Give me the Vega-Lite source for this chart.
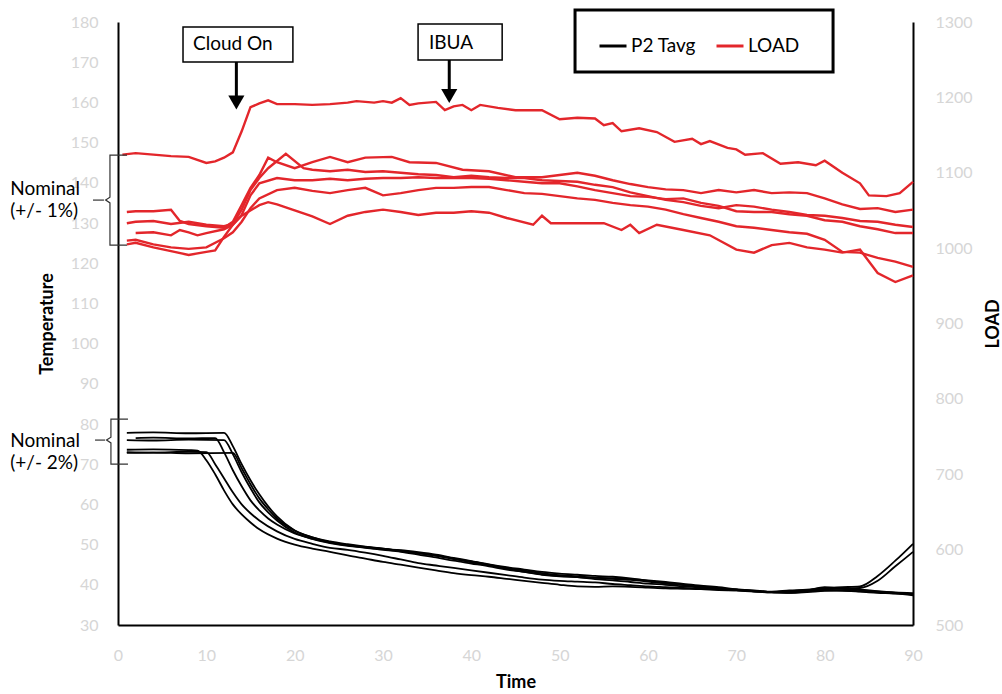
{
"$schema": "https://vega.github.io/schema/vega-lite/v6.json",
"width": 795, "height": 603,
"autosize": {"type": "none"},
"padding": {"left": 118, "top": 22, "right": 89, "bottom": 69},
"background": "white",
"config": {
  "view": {"stroke": null},
  "font": "Lato",
  "axis": {"labelFont": "Lato", "labelFontSize": 16, "labelColor": "#d6d6d6", "labelFlush": false, "titleFont": "Lato", "titleFontSize": 18, "titleFontWeight": "bold", "titleColor": "#000000", "domainColor": "#000000", "domainWidth": 2, "ticks": false, "grid": false}
},
"datasets": {
  "temp": [
    {"run":"T1","t":1,"v":77.8},{"run":"T1","t":4,"v":77.9},{"run":"T1","t":8,"v":77.7},{"run":"T1","t":12,"v":77.8},{"run":"T1","t":13,"v":74.5},{"run":"T1","t":14,"v":70},{"run":"T1","t":15,"v":66},{"run":"T1","t":16,"v":62.5},{"run":"T1","t":17,"v":59.5},{"run":"T1","t":18,"v":57},{"run":"T1","t":20,"v":53.5},{"run":"T1","t":22,"v":51.8},{"run":"T1","t":24,"v":50.6},{"run":"T1","t":26,"v":49.9},{"run":"T1","t":28,"v":49.4},{"run":"T1","t":30,"v":49},{"run":"T1","t":32,"v":48.4},{"run":"T1","t":34,"v":47.8},{"run":"T1","t":36,"v":47.2},{"run":"T1","t":38,"v":46.4},{"run":"T1","t":40,"v":45.6},{"run":"T1","t":42,"v":44.8},{"run":"T1","t":44,"v":44},{"run":"T1","t":46,"v":43.2},{"run":"T1","t":48,"v":42.6},{"run":"T1","t":50,"v":42.2},{"run":"T1","t":52,"v":41.9},{"run":"T1","t":54,"v":41.7},{"run":"T1","t":56,"v":41.6},{"run":"T1","t":58,"v":41.4},{"run":"T1","t":60,"v":41.1},{"run":"T1","t":62,"v":40.7},{"run":"T1","t":64,"v":40.2},{"run":"T1","t":66,"v":39.8},{"run":"T1","t":68,"v":39.4},{"run":"T1","t":70,"v":38.9},{"run":"T1","t":72,"v":38.6},{"run":"T1","t":74,"v":38.3},{"run":"T1","t":76,"v":38.6},{"run":"T1","t":78,"v":38.8},{"run":"T1","t":80,"v":39.2},{"run":"T1","t":82,"v":39.4},{"run":"T1","t":84,"v":39.6},{"run":"T1","t":86,"v":42.2},{"run":"T1","t":88,"v":46},{"run":"T1","t":90,"v":50.2},
    {"run":"T2","t":2,"v":76.5},{"run":"T2","t":4,"v":76.6},{"run":"T2","t":8,"v":76.4},{"run":"T2","t":11,"v":76.5},{"run":"T2","t":12,"v":73},{"run":"T2","t":13,"v":68.5},{"run":"T2","t":14,"v":64.5},{"run":"T2","t":15,"v":61},{"run":"T2","t":16,"v":58.5},{"run":"T2","t":17,"v":56.5},{"run":"T2","t":18,"v":55},{"run":"T2","t":20,"v":52.8},{"run":"T2","t":22,"v":51.5},{"run":"T2","t":24,"v":50.5},{"run":"T2","t":26,"v":49.8},{"run":"T2","t":28,"v":49.2},{"run":"T2","t":30,"v":48.7},{"run":"T2","t":32,"v":48.2},{"run":"T2","t":34,"v":47.5},{"run":"T2","t":36,"v":46.8},{"run":"T2","t":38,"v":46},{"run":"T2","t":40,"v":45.3},{"run":"T2","t":42,"v":44.6},{"run":"T2","t":44,"v":43.8},{"run":"T2","t":46,"v":43.2},{"run":"T2","t":48,"v":42.5},{"run":"T2","t":50,"v":42.1},{"run":"T2","t":52,"v":41.9},{"run":"T2","t":54,"v":41.4},{"run":"T2","t":56,"v":41.1},{"run":"T2","t":58,"v":40.7},{"run":"T2","t":60,"v":40.3},{"run":"T2","t":62,"v":40},{"run":"T2","t":64,"v":39.6},{"run":"T2","t":66,"v":39.3},{"run":"T2","t":68,"v":39},{"run":"T2","t":70,"v":38.8},{"run":"T2","t":72,"v":38.5},{"run":"T2","t":74,"v":38.2},{"run":"T2","t":76,"v":38.4},{"run":"T2","t":78,"v":38.7},{"run":"T2","t":80,"v":39},{"run":"T2","t":82,"v":39.1},{"run":"T2","t":84,"v":39.2},{"run":"T2","t":86,"v":41},{"run":"T2","t":88,"v":44.6},{"run":"T2","t":90,"v":48.2},
    {"run":"T3","t":1,"v":76},{"run":"T3","t":4,"v":75.9},{"run":"T3","t":8,"v":76.1},{"run":"T3","t":12,"v":76},{"run":"T3","t":13,"v":72.5},{"run":"T3","t":14,"v":68},{"run":"T3","t":15,"v":64},{"run":"T3","t":16,"v":60.5},{"run":"T3","t":17,"v":58},{"run":"T3","t":18,"v":56},{"run":"T3","t":20,"v":53},{"run":"T3","t":22,"v":51.4},{"run":"T3","t":24,"v":50.4},{"run":"T3","t":26,"v":49.7},{"run":"T3","t":28,"v":49.3},{"run":"T3","t":30,"v":48.9},{"run":"T3","t":32,"v":48.6},{"run":"T3","t":34,"v":48.1},{"run":"T3","t":36,"v":47.5},{"run":"T3","t":38,"v":46.7},{"run":"T3","t":40,"v":45.9},{"run":"T3","t":42,"v":45.1},{"run":"T3","t":44,"v":44.4},{"run":"T3","t":46,"v":43.8},{"run":"T3","t":48,"v":43.2},{"run":"T3","t":50,"v":42.8},{"run":"T3","t":52,"v":42.5},{"run":"T3","t":54,"v":42.2},{"run":"T3","t":56,"v":42},{"run":"T3","t":58,"v":41.6},{"run":"T3","t":60,"v":41},{"run":"T3","t":62,"v":40.5},{"run":"T3","t":64,"v":40},{"run":"T3","t":66,"v":39.6},{"run":"T3","t":68,"v":39.2},{"run":"T3","t":70,"v":38.8},{"run":"T3","t":72,"v":38.5},{"run":"T3","t":74,"v":38.2},{"run":"T3","t":76,"v":38.2},{"run":"T3","t":78,"v":38.5},{"run":"T3","t":80,"v":38.9},{"run":"T3","t":82,"v":39},{"run":"T3","t":84,"v":38.8},{"run":"T3","t":86,"v":38.4},{"run":"T3","t":88,"v":38.1},{"run":"T3","t":90,"v":37.9},
    {"run":"T4","t":1,"v":73.6},{"run":"T4","t":4,"v":73.7},{"run":"T4","t":8,"v":73.5},{"run":"T4","t":9,"v":73.4},{"run":"T4","t":10,"v":71},{"run":"T4","t":11,"v":67.5},{"run":"T4","t":12,"v":63.5},{"run":"T4","t":13,"v":60},{"run":"T4","t":14,"v":57.5},{"run":"T4","t":15,"v":55.5},{"run":"T4","t":16,"v":53.8},{"run":"T4","t":18,"v":51.5},{"run":"T4","t":20,"v":50},{"run":"T4","t":22,"v":49},{"run":"T4","t":24,"v":48.2},{"run":"T4","t":26,"v":47.3},{"run":"T4","t":28,"v":46.5},{"run":"T4","t":30,"v":45.7},{"run":"T4","t":32,"v":45},{"run":"T4","t":34,"v":44.3},{"run":"T4","t":36,"v":43.6},{"run":"T4","t":38,"v":42.9},{"run":"T4","t":40,"v":42.4},{"run":"T4","t":42,"v":42},{"run":"T4","t":44,"v":41.5},{"run":"T4","t":46,"v":41},{"run":"T4","t":48,"v":40.5},{"run":"T4","t":50,"v":40},{"run":"T4","t":52,"v":39.6},{"run":"T4","t":54,"v":39.5},{"run":"T4","t":56,"v":39.6},{"run":"T4","t":58,"v":39.5},{"run":"T4","t":60,"v":39.3},{"run":"T4","t":62,"v":39.1},{"run":"T4","t":64,"v":39},{"run":"T4","t":66,"v":38.9},{"run":"T4","t":68,"v":38.7},{"run":"T4","t":70,"v":38.6},{"run":"T4","t":72,"v":38.4},{"run":"T4","t":74,"v":38.2},{"run":"T4","t":76,"v":38},{"run":"T4","t":78,"v":38.3},{"run":"T4","t":80,"v":38.6},{"run":"T4","t":82,"v":38.5},{"run":"T4","t":84,"v":38.3},{"run":"T4","t":86,"v":38},{"run":"T4","t":88,"v":37.8},{"run":"T4","t":90,"v":37.4},
    {"run":"T5","t":1,"v":72.8},{"run":"T5","t":4,"v":72.9},{"run":"T5","t":8,"v":72.7},{"run":"T5","t":13,"v":72.8},{"run":"T5","t":14,"v":69},{"run":"T5","t":15,"v":65},{"run":"T5","t":16,"v":61.5},{"run":"T5","t":17,"v":58.8},{"run":"T5","t":18,"v":56.5},{"run":"T5","t":20,"v":53.5},{"run":"T5","t":22,"v":51.8},{"run":"T5","t":24,"v":50.8},{"run":"T5","t":26,"v":50.1},{"run":"T5","t":28,"v":49.5},{"run":"T5","t":30,"v":49},{"run":"T5","t":32,"v":48.5},{"run":"T5","t":34,"v":47.9},{"run":"T5","t":36,"v":47.3},{"run":"T5","t":38,"v":46.5},{"run":"T5","t":40,"v":45.8},{"run":"T5","t":42,"v":45},{"run":"T5","t":44,"v":44.2},{"run":"T5","t":46,"v":43.5},{"run":"T5","t":48,"v":42.9},{"run":"T5","t":50,"v":42.4},{"run":"T5","t":52,"v":42.1},{"run":"T5","t":54,"v":41.8},{"run":"T5","t":56,"v":41.5},{"run":"T5","t":58,"v":41.2},{"run":"T5","t":60,"v":40.8},{"run":"T5","t":62,"v":40.3},{"run":"T5","t":64,"v":39.9},{"run":"T5","t":66,"v":39.5},{"run":"T5","t":68,"v":39.1},{"run":"T5","t":70,"v":38.7},{"run":"T5","t":72,"v":38.4},{"run":"T5","t":74,"v":38.1},{"run":"T5","t":76,"v":38.3},{"run":"T5","t":78,"v":38.6},{"run":"T5","t":80,"v":39.4},{"run":"T5","t":82,"v":39},{"run":"T5","t":84,"v":38.7},{"run":"T5","t":86,"v":38.3},{"run":"T5","t":88,"v":38},{"run":"T5","t":90,"v":37.6},
    {"run":"T6","t":1,"v":73},{"run":"T6","t":4,"v":72.9},{"run":"T6","t":8,"v":73.1},{"run":"T6","t":10,"v":73},{"run":"T6","t":11,"v":70},{"run":"T6","t":12,"v":66.5},{"run":"T6","t":13,"v":63},{"run":"T6","t":14,"v":60},{"run":"T6","t":15,"v":57.8},{"run":"T6","t":16,"v":56},{"run":"T6","t":18,"v":53.3},{"run":"T6","t":20,"v":51.4},{"run":"T6","t":22,"v":50.2},{"run":"T6","t":24,"v":49.2},{"run":"T6","t":26,"v":48.7},{"run":"T6","t":28,"v":48},{"run":"T6","t":30,"v":47.2},{"run":"T6","t":32,"v":46.3},{"run":"T6","t":34,"v":45.4},{"run":"T6","t":36,"v":44.8},{"run":"T6","t":38,"v":44.2},{"run":"T6","t":40,"v":43.6},{"run":"T6","t":42,"v":43},{"run":"T6","t":44,"v":42.4},{"run":"T6","t":46,"v":41.8},{"run":"T6","t":48,"v":41.3},{"run":"T6","t":50,"v":41},{"run":"T6","t":52,"v":40.8},{"run":"T6","t":54,"v":40.6},{"run":"T6","t":56,"v":40.2},{"run":"T6","t":58,"v":39.9},{"run":"T6","t":60,"v":39.6},{"run":"T6","t":62,"v":39.4},{"run":"T6","t":64,"v":39.2},{"run":"T6","t":66,"v":39},{"run":"T6","t":68,"v":38.8},{"run":"T6","t":70,"v":38.6},{"run":"T6","t":72,"v":38.3},{"run":"T6","t":74,"v":38.1},{"run":"T6","t":76,"v":38},{"run":"T6","t":78,"v":38.2},{"run":"T6","t":80,"v":38.5},{"run":"T6","t":82,"v":38.6},{"run":"T6","t":84,"v":38.4},{"run":"T6","t":86,"v":38.1},{"run":"T6","t":88,"v":37.9},{"run":"T6","t":90,"v":37.7}
  ],
  "load": [
    {"run":"L1","t":0.5,"v":1124},{"run":"L1","t":2,"v":1126},{"run":"L1","t":4,"v":1124},{"run":"L1","t":6,"v":1122},{"run":"L1","t":8,"v":1121},{"run":"L1","t":10,"v":1113},{"run":"L1","t":11,"v":1115},{"run":"L1","t":12,"v":1120},{"run":"L1","t":13,"v":1127},{"run":"L1","t":14,"v":1155},{"run":"L1","t":15,"v":1187},{"run":"L1","t":16,"v":1192},{"run":"L1","t":17,"v":1196},{"run":"L1","t":18,"v":1191},{"run":"L1","t":20,"v":1191},{"run":"L1","t":22,"v":1190},{"run":"L1","t":24,"v":1191},{"run":"L1","t":26,"v":1193},{"run":"L1","t":27,"v":1195},{"run":"L1","t":29,"v":1193},{"run":"L1","t":30,"v":1195},{"run":"L1","t":31,"v":1193},{"run":"L1","t":32,"v":1199},{"run":"L1","t":33,"v":1190},{"run":"L1","t":34,"v":1192},{"run":"L1","t":36,"v":1194},{"run":"L1","t":37,"v":1183},{"run":"L1","t":38,"v":1188},{"run":"L1","t":39,"v":1190},{"run":"L1","t":40,"v":1183},{"run":"L1","t":41,"v":1190},{"run":"L1","t":43,"v":1186},{"run":"L1","t":45,"v":1183},{"run":"L1","t":48,"v":1183},{"run":"L1","t":50,"v":1171},{"run":"L1","t":52,"v":1173},{"run":"L1","t":54,"v":1172},{"run":"L1","t":55,"v":1163},{"run":"L1","t":56,"v":1166},{"run":"L1","t":57,"v":1155},{"run":"L1","t":59,"v":1159},{"run":"L1","t":61,"v":1154},{"run":"L1","t":63,"v":1141},{"run":"L1","t":65,"v":1145},{"run":"L1","t":66,"v":1138},{"run":"L1","t":67,"v":1142},{"run":"L1","t":69,"v":1133},{"run":"L1","t":70,"v":1131},{"run":"L1","t":71,"v":1124},{"run":"L1","t":73,"v":1126},{"run":"L1","t":75,"v":1112},{"run":"L1","t":77,"v":1114},{"run":"L1","t":79,"v":1110},{"run":"L1","t":80,"v":1116},{"run":"L1","t":82,"v":1100},{"run":"L1","t":84,"v":1086},{"run":"L1","t":85,"v":1070},{"run":"L1","t":87,"v":1069},{"run":"L1","t":88.5,"v":1073},{"run":"L1","t":90,"v":1088},
    {"run":"L2","t":1,"v":1048},{"run":"L2","t":2,"v":1049},{"run":"L2","t":4,"v":1049},{"run":"L2","t":6,"v":1051},{"run":"L2","t":7,"v":1036},{"run":"L2","t":8,"v":1032},{"run":"L2","t":10,"v":1029},{"run":"L2","t":12,"v":1027},{"run":"L2","t":13,"v":1035},{"run":"L2","t":14,"v":1057},{"run":"L2","t":15,"v":1080},{"run":"L2","t":16,"v":1097},{"run":"L2","t":17,"v":1120},{"run":"L2","t":18,"v":1114},{"run":"L2","t":20,"v":1106},{"run":"L2","t":22,"v":1114},{"run":"L2","t":24,"v":1121},{"run":"L2","t":26,"v":1114},{"run":"L2","t":28,"v":1120},{"run":"L2","t":31,"v":1121},{"run":"L2","t":33,"v":1114},{"run":"L2","t":36,"v":1113},{"run":"L2","t":39,"v":1104},{"run":"L2","t":42,"v":1102},{"run":"L2","t":45,"v":1094},{"run":"L2","t":48,"v":1094},{"run":"L2","t":50,"v":1097},{"run":"L2","t":52,"v":1100},{"run":"L2","t":54,"v":1096},{"run":"L2","t":56,"v":1090},{"run":"L2","t":58,"v":1085},{"run":"L2","t":60,"v":1081},{"run":"L2","t":62,"v":1078},{"run":"L2","t":64,"v":1077},{"run":"L2","t":66,"v":1073},{"run":"L2","t":68,"v":1077},{"run":"L2","t":70,"v":1074},{"run":"L2","t":72,"v":1077},{"run":"L2","t":74,"v":1073},{"run":"L2","t":76,"v":1074},{"run":"L2","t":78,"v":1073},{"run":"L2","t":80,"v":1066},{"run":"L2","t":82,"v":1058},{"run":"L2","t":84,"v":1052},{"run":"L2","t":86,"v":1053},{"run":"L2","t":88,"v":1048},{"run":"L2","t":90,"v":1051},
    {"run":"L3","t":1,"v":1033},{"run":"L3","t":2,"v":1035},{"run":"L3","t":4,"v":1036},{"run":"L3","t":6,"v":1032},{"run":"L3","t":8,"v":1035},{"run":"L3","t":10,"v":1031},{"run":"L3","t":12,"v":1029},{"run":"L3","t":13,"v":1032},{"run":"L3","t":14,"v":1051},{"run":"L3","t":15,"v":1077},{"run":"L3","t":16,"v":1093},{"run":"L3","t":17,"v":1106},{"run":"L3","t":19,"v":1125},{"run":"L3","t":21,"v":1106},{"run":"L3","t":22,"v":1104},{"run":"L3","t":24,"v":1102},{"run":"L3","t":26,"v":1104},{"run":"L3","t":28,"v":1101},{"run":"L3","t":30,"v":1102},{"run":"L3","t":32,"v":1100},{"run":"L3","t":34,"v":1098},{"run":"L3","t":36,"v":1097},{"run":"L3","t":38,"v":1094},{"run":"L3","t":40,"v":1096},{"run":"L3","t":42,"v":1094},{"run":"L3","t":44,"v":1093},{"run":"L3","t":46,"v":1093},{"run":"L3","t":48,"v":1090},{"run":"L3","t":50,"v":1089},{"run":"L3","t":52,"v":1088},{"run":"L3","t":54,"v":1084},{"run":"L3","t":56,"v":1081},{"run":"L3","t":58,"v":1074},{"run":"L3","t":60,"v":1069},{"run":"L3","t":62,"v":1064},{"run":"L3","t":64,"v":1061},{"run":"L3","t":66,"v":1056},{"run":"L3","t":68,"v":1053},{"run":"L3","t":70,"v":1057},{"run":"L3","t":72,"v":1055},{"run":"L3","t":74,"v":1051},{"run":"L3","t":76,"v":1048},{"run":"L3","t":78,"v":1044},{"run":"L3","t":80,"v":1043},{"run":"L3","t":82,"v":1040},{"run":"L3","t":84,"v":1036},{"run":"L3","t":86,"v":1035},{"run":"L3","t":88,"v":1031},{"run":"L3","t":90,"v":1028},
    {"run":"L4","t":2,"v":1020},{"run":"L4","t":4,"v":1021},{"run":"L4","t":6,"v":1017},{"run":"L4","t":7,"v":1024},{"run":"L4","t":8,"v":1021},{"run":"L4","t":9,"v":1017},{"run":"L4","t":10,"v":1020},{"run":"L4","t":12,"v":1025},{"run":"L4","t":13,"v":1031},{"run":"L4","t":14,"v":1044},{"run":"L4","t":15,"v":1070},{"run":"L4","t":16,"v":1086},{"run":"L4","t":18,"v":1093},{"run":"L4","t":20,"v":1090},{"run":"L4","t":22,"v":1090},{"run":"L4","t":24,"v":1092},{"run":"L4","t":26,"v":1090},{"run":"L4","t":28,"v":1092},{"run":"L4","t":30,"v":1093},{"run":"L4","t":32,"v":1093},{"run":"L4","t":34,"v":1094},{"run":"L4","t":36,"v":1093},{"run":"L4","t":38,"v":1093},{"run":"L4","t":40,"v":1093},{"run":"L4","t":42,"v":1092},{"run":"L4","t":44,"v":1090},{"run":"L4","t":46,"v":1088},{"run":"L4","t":48,"v":1086},{"run":"L4","t":50,"v":1086},{"run":"L4","t":52,"v":1082},{"run":"L4","t":54,"v":1077},{"run":"L4","t":56,"v":1073},{"run":"L4","t":58,"v":1069},{"run":"L4","t":60,"v":1068},{"run":"L4","t":62,"v":1065},{"run":"L4","t":64,"v":1066},{"run":"L4","t":66,"v":1060},{"run":"L4","t":68,"v":1056},{"run":"L4","t":70,"v":1049},{"run":"L4","t":72,"v":1048},{"run":"L4","t":74,"v":1048},{"run":"L4","t":76,"v":1045},{"run":"L4","t":78,"v":1043},{"run":"L4","t":80,"v":1037},{"run":"L4","t":82,"v":1035},{"run":"L4","t":84,"v":1029},{"run":"L4","t":86,"v":1025},{"run":"L4","t":88,"v":1020},{"run":"L4","t":90,"v":1020},
    {"run":"L5","t":1,"v":1010},{"run":"L5","t":2,"v":1011},{"run":"L5","t":4,"v":1005},{"run":"L5","t":6,"v":1001},{"run":"L5","t":8,"v":999},{"run":"L5","t":10,"v":1001},{"run":"L5","t":12,"v":1013},{"run":"L5","t":13,"v":1021},{"run":"L5","t":14,"v":1035},{"run":"L5","t":15,"v":1053},{"run":"L5","t":16,"v":1066},{"run":"L5","t":18,"v":1077},{"run":"L5","t":20,"v":1080},{"run":"L5","t":22,"v":1076},{"run":"L5","t":24,"v":1073},{"run":"L5","t":26,"v":1077},{"run":"L5","t":28,"v":1080},{"run":"L5","t":30,"v":1070},{"run":"L5","t":32,"v":1073},{"run":"L5","t":34,"v":1077},{"run":"L5","t":36,"v":1080},{"run":"L5","t":38,"v":1080},{"run":"L5","t":40,"v":1081},{"run":"L5","t":42,"v":1081},{"run":"L5","t":44,"v":1077},{"run":"L5","t":46,"v":1073},{"run":"L5","t":48,"v":1072},{"run":"L5","t":50,"v":1069},{"run":"L5","t":52,"v":1066},{"run":"L5","t":54,"v":1064},{"run":"L5","t":56,"v":1060},{"run":"L5","t":58,"v":1057},{"run":"L5","t":60,"v":1055},{"run":"L5","t":62,"v":1051},{"run":"L5","t":64,"v":1045},{"run":"L5","t":66,"v":1040},{"run":"L5","t":68,"v":1035},{"run":"L5","t":70,"v":1029},{"run":"L5","t":72,"v":1027},{"run":"L5","t":74,"v":1024},{"run":"L5","t":76,"v":1021},{"run":"L5","t":78,"v":1019},{"run":"L5","t":80,"v":1011},{"run":"L5","t":82,"v":995},{"run":"L5","t":84,"v":994},{"run":"L5","t":86,"v":987},{"run":"L5","t":88,"v":982},{"run":"L5","t":90,"v":975},
    {"run":"L6","t":1,"v":1005},{"run":"L6","t":2,"v":1007},{"run":"L6","t":4,"v":1001},{"run":"L6","t":6,"v":996},{"run":"L6","t":8,"v":991},{"run":"L6","t":10,"v":995},{"run":"L6","t":11,"v":997},{"run":"L6","t":12,"v":1015},{"run":"L6","t":13,"v":1031},{"run":"L6","t":14,"v":1043},{"run":"L6","t":16,"v":1057},{"run":"L6","t":17,"v":1061},{"run":"L6","t":18,"v":1058},{"run":"L6","t":20,"v":1050},{"run":"L6","t":22,"v":1042},{"run":"L6","t":24,"v":1032},{"run":"L6","t":26,"v":1043},{"run":"L6","t":28,"v":1048},{"run":"L6","t":30,"v":1051},{"run":"L6","t":32,"v":1048},{"run":"L6","t":34,"v":1044},{"run":"L6","t":36,"v":1047},{"run":"L6","t":38,"v":1047},{"run":"L6","t":40,"v":1049},{"run":"L6","t":42,"v":1047},{"run":"L6","t":44,"v":1040},{"run":"L6","t":47,"v":1031},{"run":"L6","t":48,"v":1043},{"run":"L6","t":49,"v":1033},{"run":"L6","t":52,"v":1033},{"run":"L6","t":55,"v":1033},{"run":"L6","t":57,"v":1024},{"run":"L6","t":58,"v":1031},{"run":"L6","t":59,"v":1020},{"run":"L6","t":61,"v":1031},{"run":"L6","t":64,"v":1024},{"run":"L6","t":67,"v":1017},{"run":"L6","t":70,"v":998},{"run":"L6","t":72,"v":994},{"run":"L6","t":74,"v":1004},{"run":"L6","t":76,"v":1007},{"run":"L6","t":78,"v":1001},{"run":"L6","t":80,"v":998},{"run":"L6","t":82,"v":994},{"run":"L6","t":84,"v":998},{"run":"L6","t":86,"v":967},{"run":"L6","t":88,"v":955},{"run":"L6","t":90,"v":964}
  ]
},
"layer": [
  {
    "data": {"values": [
      {"x1": 51.74, "x2": 80.95, "y1": 167.56, "y2": 182.99}
    ]},
    "mark": {"type": "rect", "fill": "#ffffff", "stroke": "#000000", "strokeWidth": 3, "clip": false},
    "encoding": {
      "x": {"field": "x1", "type": "quantitative", "scale": {"domain": [0, 90], "nice": false, "zero": false},
            "axis": {"values": [0,10,20,30,40,50,60,70,80,90], "title": "Time", "labelPadding": 22, "titlePadding": 10, "labelFlush": false}},
      "x2": {"field": "x2"},
      "y": {"field": "y1", "type": "quantitative", "axis": null, "scale": {"domain": [30, 180], "nice": false, "zero": false}},
      "y2": {"field": "y2"}
    }
  },
  {
    "data": {"name": "temp"},
    "mark": {"type": "line", "strokeWidth": 1.8, "interpolate": "monotone", "clip": false},
    "encoding": {
      "x": {"field": "t", "type": "quantitative"},
      "y": {"field": "v", "type": "quantitative", "scale": {"domain": [30, 180], "nice": false, "zero": false},
            "axis": {"orient": "left", "values": [30,40,50,60,70,80,90,100,110,120,130,140,150,160,170,180], "title": "Temperature", "labelPadding": 20, "titlePadding": 14}},
      "detail": {"field": "run"},
      "color": {"datum": "P2 Tavg", "type": "nominal",
                "scale": {"domain": ["P2 Tavg", "LOAD"], "range": ["#000000", "#e3262b"]},
                "legend": {"orient": "none", "legendX": 470, "legendY": -1, "direction": "horizontal", "title": null,
                           "symbolType": "stroke", "symbolStrokeWidth": 3, "symbolSize": 729,
                           "labelFont": "Lato", "labelFontSize": 19, "labelColor": "#000000", "labelOffset": 3,
                           "padding": 10, "columnPadding": 13}}
    }
  },
  {
    "data": {"name": "load"},
    "mark": {"type": "line", "strokeWidth": 2.4, "clip": false},
    "encoding": {
      "x": {"field": "t", "type": "quantitative"},
      "y": {"field": "v", "type": "quantitative", "scale": {"domain": [500, 1300], "nice": false, "zero": false},
            "axis": {"orient": "right", "values": [500,600,700,800,900,1000,1100,1200,1300], "format": "d", "title": "LOAD", "titleAngle": 270, "titleBaseline": "top", "labelPadding": 22, "titlePadding": 12}},
      "detail": {"field": "run"},
      "color": {"datum": "LOAD", "type": "nominal"}
    }
  },
  {
    "data": {"values": [
      {"b":"a","o":1,"x":1.02,"y":146.9},{"b":"a","o":2,"x":-0.91,"y":146.9},{"b":"a","o":3,"x":-0.91,"y":136.4},{"b":"a","o":4,"x":-1.4,"y":135.7},{"b":"a","o":5,"x":-0.91,"y":135.0},{"b":"a","o":6,"x":-0.91,"y":124.5},{"b":"a","o":7,"x":1.02,"y":124.5},
      {"b":"ap","o":1,"x":-2.83,"y":135.7},{"b":"ap","o":2,"x":-1.59,"y":135.7},
      {"b":"c","o":1,"x":1.13,"y":81.2},{"b":"c","o":2,"x":-0.8,"y":81.2},{"b":"c","o":3,"x":-0.8,"y":76.7},{"b":"c","o":4,"x":-1.3,"y":76.0},{"b":"c","o":5,"x":-0.8,"y":75.3},{"b":"c","o":6,"x":-0.8,"y":70.0},{"b":"c","o":7,"x":1.13,"y":70.0},
      {"b":"cp","o":1,"x":-2.6,"y":76.0},{"b":"cp","o":2,"x":-1.47,"y":76.0}
    ]},
    "mark": {"type": "line", "strokeWidth": 1.2, "color": "#333333", "clip": false},
    "encoding": {
      "x": {"field": "x", "type": "quantitative"},
      "y": {"field": "y", "type": "quantitative", "axis": null, "scale": {"domain": [30, 180], "nice": false, "zero": false}},
      "detail": {"field": "b"},
      "order": {"field": "o"}
    }
  },
  {
    "data": {"values": [
      {"x": -12.2, "y": 138.5, "label": "Nominal\n(+/- 1%)"},
      {"x": -12.2, "y": 75.8, "label": "Nominal\n(+/- 2%)"}
    ]},
    "mark": {"type": "text", "align": "left", "baseline": "middle", "font": "Lato", "fontSize": 19, "lineHeight": 22, "lineBreak": "\n", "color": "#000000", "clip": false},
    "encoding": {
      "x": {"field": "x", "type": "quantitative"},
      "y": {"field": "y", "type": "quantitative", "axis": null, "scale": {"domain": [30, 180], "nice": false, "zero": false}},
      "text": {"field": "label"}
    }
  },
  {
    "data": {"values": [
      {"x1": 13.4, "y1": 170.05, "y2": 161.5},
      {"x1": 37.5, "y1": 170.55, "y2": 163}
    ]},
    "mark": {"type": "rule", "strokeWidth": 3, "color": "#000000", "clip": false},
    "encoding": {
      "x": {"field": "x1", "type": "quantitative"},
      "y": {"field": "y1", "type": "quantitative", "axis": null, "scale": {"domain": [30, 180], "nice": false, "zero": false}},
      "y2": {"field": "y2"}
    }
  },
  {
    "data": {"values": [
      {"x1": 13.4, "y1": 160.0},
      {"x1": 37.5, "y1": 161.6}
    ]},
    "mark": {"type": "point", "shape": "triangle-down", "filled": true, "size": 260, "color": "#000000", "opacity": 1, "clip": false},
    "encoding": {
      "x": {"field": "x1", "type": "quantitative"},
      "y": {"field": "y1", "type": "quantitative", "axis": null, "scale": {"domain": [30, 180], "nice": false, "zero": false}}
    }
  },
  {
    "data": {"values": [
      {"x1": 7.36, "x2": 19.8, "y1": 170.05, "y2": 178.76},
      {"x1": 33.97, "x2": 43.49, "y1": 170.55, "y2": 179.5}
    ]},
    "mark": {"type": "rect", "fill": "#ffffff", "stroke": "#000000", "strokeWidth": 1.5, "clip": false},
    "encoding": {
      "x": {"field": "x1", "type": "quantitative"},
      "x2": {"field": "x2"},
      "y": {"field": "y1", "type": "quantitative", "axis": null, "scale": {"domain": [30, 180], "nice": false, "zero": false}},
      "y2": {"field": "y2"}
    }
  },
  {
    "data": {"values": [
      {"x1": 13.0, "y1": 174.5, "label": "Cloud On"},
      {"x1": 37.7, "y1": 174.9, "label": "IBUA"}
    ]},
    "mark": {"type": "text", "align": "center", "baseline": "middle", "font": "Lato", "fontSize": 19, "color": "#000000", "clip": false},
    "encoding": {
      "x": {"field": "x1", "type": "quantitative"},
      "y": {"field": "y1", "type": "quantitative", "axis": null, "scale": {"domain": [30, 180], "nice": false, "zero": false}},
      "text": {"field": "label"}
    }
  }
],
"resolve": {"scale": {"y": "independent"}}
}
